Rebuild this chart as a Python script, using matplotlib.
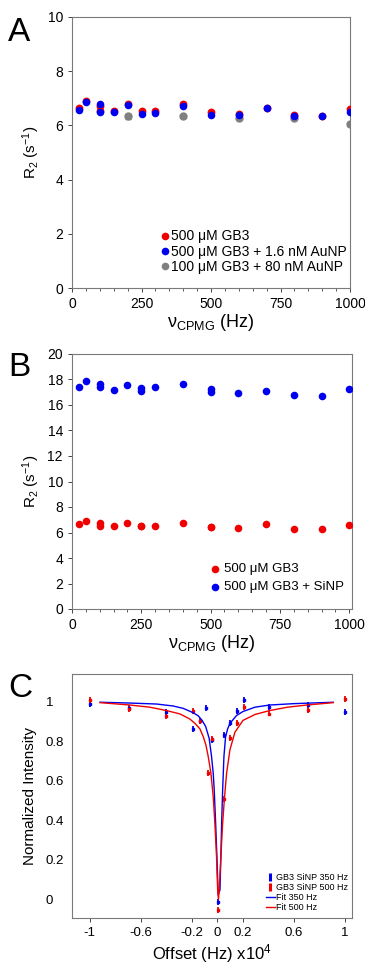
import matplotlib
matplotlib.use("Agg")
import matplotlib.pyplot as plt
from matplotlib.ticker import MultipleLocator, FixedLocator
from matplotlib.lines import Line2D

plt.rcParams['font.family'] = ['Liberation Sans', 'DejaVu Sans']
plt.rcParams['mathtext.fontset'] = 'custom'
plt.rcParams['mathtext.rm'] = 'Liberation Sans'
plt.rcParams['mathtext.it'] = 'Liberation Sans:italic'

# ---------------- Panel A data ----------------
a_x_red = [25, 50, 100, 100, 150, 200, 250, 300, 400, 500, 600, 700, 800, 900, 1000]
a_y_red = [6.63, 6.89, 6.72, 6.52, 6.52, 6.78, 6.52, 6.54, 6.79, 6.48, 6.43, 6.66, 6.37, 6.35, 6.62]
a_x_blue = [25, 50, 100, 100, 150, 200, 250, 300, 400, 500, 600, 700, 800, 900, 1000]
a_y_blue = [6.58, 6.85, 6.80, 6.51, 6.48, 6.74, 6.43, 6.46, 6.73, 6.39, 6.37, 6.66, 6.35, 6.35, 6.50]
a_x_gray = [200, 400, 600, 800, 1000]
a_y_gray = [6.33, 6.33, 6.27, 6.27, 6.06]
a_err_gray = [0.08, 0.06, 0.08, 0.06, 0.08]
a_labels = ["500 \u03bcM GB3", "500 \u03bcM GB3 + 1.6 nM AuNP", "100 \u03bcM GB3 + 80 nM AuNP"]

# ---------------- Panel B data ----------------
b_x = [25, 50, 100, 100, 150, 200, 250, 250, 300, 400, 500, 500, 600, 700, 800, 900, 1000]
b_y_red = [6.64, 6.88, 6.75, 6.54, 6.48, 6.77, 6.48, 6.48, 6.51, 6.77, 6.43, 6.43, 6.38, 6.64, 6.30, 6.30, 6.56]
b_y_blue = [17.38, 17.85, 17.67, 17.41, 17.15, 17.54, 17.35, 17.10, 17.38, 17.65, 17.28, 17.02, 16.94, 17.07, 16.75, 16.68, 17.25]
b_labels = ["500 \u03bcM GB3", "500 \u03bcM GB3 + SiNP"]

# ---------------- Panel C data ----------------
c_x_350 = [-1.0, -0.69, -0.40, -0.19, -0.14, -0.093, -0.046, 0.005, 0.055, 0.10, 0.155, 0.21, 0.405, 0.71, 1.0]
c_y_350 = [0.988, 0.970, 0.950, 0.860, 0.904, 0.966, 0.806, -0.012, 0.830, 0.890, 0.953, 1.008, 0.975, 0.983, 0.946]
c_x_500 = [-1.0, -0.69, -0.40, -0.19, -0.14, -0.07, -0.046, 0.005, 0.055, 0.10, 0.155, 0.21, 0.405, 0.71, 1.0]
c_y_500 = [1.008, 0.961, 0.927, 0.953, 0.900, 0.637, 0.810, -0.054, 0.506, 0.815, 0.894, 0.975, 0.940, 0.958, 1.013]
c_err = 0.015
# fitted curves
fit350_x = [-0.92, -0.686, -0.477, -0.347, -0.268, -0.19, -0.15, -0.12, -0.092, -0.065, -0.046, -0.033,
            -0.025, -0.014, -0.004, 0.006, 0.020, 0.027, 0.033, 0.041, 0.051, 0.064, 0.080, 0.098,
            0.15, 0.20, 0.294, 0.41, 0.60, 0.908]
fit350_y = [0.997, 0.993, 0.988, 0.978, 0.966, 0.944, 0.928, 0.905, 0.874, 0.815, 0.722, 0.638,
            0.553, 0.385, 0.216, 0.022, 0.047, 0.216, 0.385, 0.553, 0.722, 0.823, 0.862, 0.890,
            0.930, 0.950, 0.972, 0.983, 0.990, 0.997]
fit500_x = [-0.92, -0.686, -0.53, -0.40, -0.294, -0.216, -0.176, -0.137, -0.111, -0.090, -0.072, -0.051,
            -0.033, -0.020, -0.007, 0.002, 0.008, 0.014, 0.027, 0.041, 0.054, 0.072, 0.098, 0.137,
            0.20, 0.294, 0.41, 0.55, 0.70, 0.908]
fit500_y = [0.995, 0.983, 0.972, 0.955, 0.938, 0.912, 0.890, 0.862, 0.823, 0.780, 0.722, 0.638,
            0.519, 0.385, 0.216, 0.047, 0.0, 0.047, 0.216, 0.385, 0.503, 0.638, 0.756, 0.845,
            0.905, 0.935, 0.955, 0.972, 0.983, 0.995]
c_labels = ["GB3 SiNP 350 Hz", "GB3 SiNP 500 Hz", "Fit 350 Hz", "Fit 500 Hz"]

RED = "#f00000"
BLUE = "#0000f0"
GRAY = "#808080"
SPINE = "#7a7a7a"

fig = plt.figure(figsize=(3.65, 9.67), dpi=100)

def style(ax):
    for s in ax.spines.values():
        s.set_color(SPINE)
        s.set_linewidth(0.8)
    ax.tick_params(direction='out', length=3, width=0.7, color='#444444', labelsize=10,
                   top=False, right=False)
    ax.tick_params(which='minor', direction='out', length=2, width=0.6, color='#444444')

# ---- A ----
axA = fig.add_axes([72/365, 1-288/967, 278/365, 271/967])
axA.scatter(a_x_red, a_y_red, s=32, color=RED, zorder=3, linewidths=0)
axA.scatter(a_x_blue, a_y_blue, s=30, color=BLUE, zorder=4, linewidths=0)
axA.errorbar(a_x_gray, a_y_gray, yerr=a_err_gray, fmt='o', ms=5, color=GRAY, capsize=2,
             elinewidth=1, zorder=2)
axA.set_xlim(0, 1000)
axA.set_ylim(0, 10)
axA.xaxis.set_major_locator(MultipleLocator(250))
axA.xaxis.set_minor_locator(MultipleLocator(50))
axA.yaxis.set_major_locator(MultipleLocator(2))
style(axA)
axA.set_ylabel("R$_2$ (s$^{-1}$)", fontsize=11, labelpad=4)
axA.set_xlabel("\u03bd$_{\\rm CPMG}$ (Hz)", fontsize=13, labelpad=1)
hA = [Line2D([], [], ls='', marker='o', ms=5.5, color=c, mec='none') for c in (RED, BLUE, GRAY)]
axA.legend(hA, a_labels, loc='lower right', bbox_to_anchor=(1.02, 0.02), frameon=False, fontsize=10,
           handletextpad=0.0, labelspacing=0.1, borderaxespad=0.2, handlelength=1.0)
fig.text(8/365, 1-41/967, "A", fontsize=24)

# ---- B ----
axB = fig.add_axes([72/365, 1-609/967, 280/365, 255/967])
axB.scatter(b_x, b_y_red, s=30, color=RED, zorder=3, label=b_labels[0], linewidths=0)
axB.scatter(b_x, b_y_blue, s=30, color=BLUE, zorder=3, label=b_labels[1], linewidths=0)
axB.set_xlim(0, 1010)
axB.set_ylim(0, 20)
axB.xaxis.set_major_locator(MultipleLocator(250))
axB.xaxis.set_minor_locator(MultipleLocator(50))
axB.yaxis.set_major_locator(MultipleLocator(2))
style(axB)
axB.set_ylabel("R$_2$ (s$^{-1}$)", fontsize=11, labelpad=4)
axB.set_xlabel("\u03bd$_{\\rm CPMG}$ (Hz)", fontsize=13, labelpad=1)
axB.legend(loc='lower right', bbox_to_anchor=(1.0, 0.03), frameon=False, fontsize=9.5,
           handletextpad=0.1, labelspacing=0.45, borderaxespad=0.2, handlelength=1.2)
fig.text(8/365, 1-376/967, "B", fontsize=24)

# ---- C ----
axC = fig.add_axes([72/365, 1-918/967, 280/365, 244/967])
e1 = axC.errorbar(c_x_350, c_y_350, yerr=c_err, fmt='s', ms=1.8, color=BLUE, elinewidth=1.3,
                  capsize=0, zorder=3)
e2 = axC.errorbar(c_x_500, c_y_500, yerr=c_err, fmt='s', ms=1.8, color=RED, elinewidth=1.3,
                  capsize=0, zorder=3)
l1, = axC.plot(fit350_x, fit350_y, color=BLUE, lw=1.0, zorder=4)
l2, = axC.plot(fit500_x, fit500_y, color=RED, lw=1.0, zorder=4)
axC.set_xlim(-1.14, 1.055)
axC.set_ylim(-0.095, 1.14)
axC.xaxis.set_major_locator(FixedLocator([-1, -0.6, -0.2, 0, 0.2, 0.6, 1]))
axC.set_xticklabels(["-1", "-0.6", "-0.2", "0", "0.2", "0.6", "1"])
axC.yaxis.set_major_locator(FixedLocator([0, 0.2, 0.4, 0.6, 0.8, 1.0]))
axC.set_yticklabels(["0", "0.2", "0.4", "0.6", "0.8", "1"])
style(axC)
axC.tick_params(labelsize=9.5)
axC.tick_params(axis='y', length=0, pad=19)
for lab in axC.get_yticklabels():
    lab.set_horizontalalignment('left')
axC.set_ylabel("Normalized Intensity", fontsize=11, labelpad=6)
axC.set_xlabel("Offset (Hz) x10$^4$", fontsize=12, labelpad=2)
hb = Line2D([], [], ls='', marker='|', ms=6, mew=2.2, color=BLUE)
hr = Line2D([], [], ls='', marker='|', ms=6, mew=2.2, color=RED)
axC.legend([hb, hr, l1, l2], c_labels, loc='lower right', bbox_to_anchor=(1.01, 0.0),
           frameon=False, fontsize=6.5, handletextpad=0.2, labelspacing=0.1, borderaxespad=0.3,
           handlelength=1.0)
fig.text(8/365, 1-697/967, "C", fontsize=24)

fig.savefig("out.png", dpi=100)
